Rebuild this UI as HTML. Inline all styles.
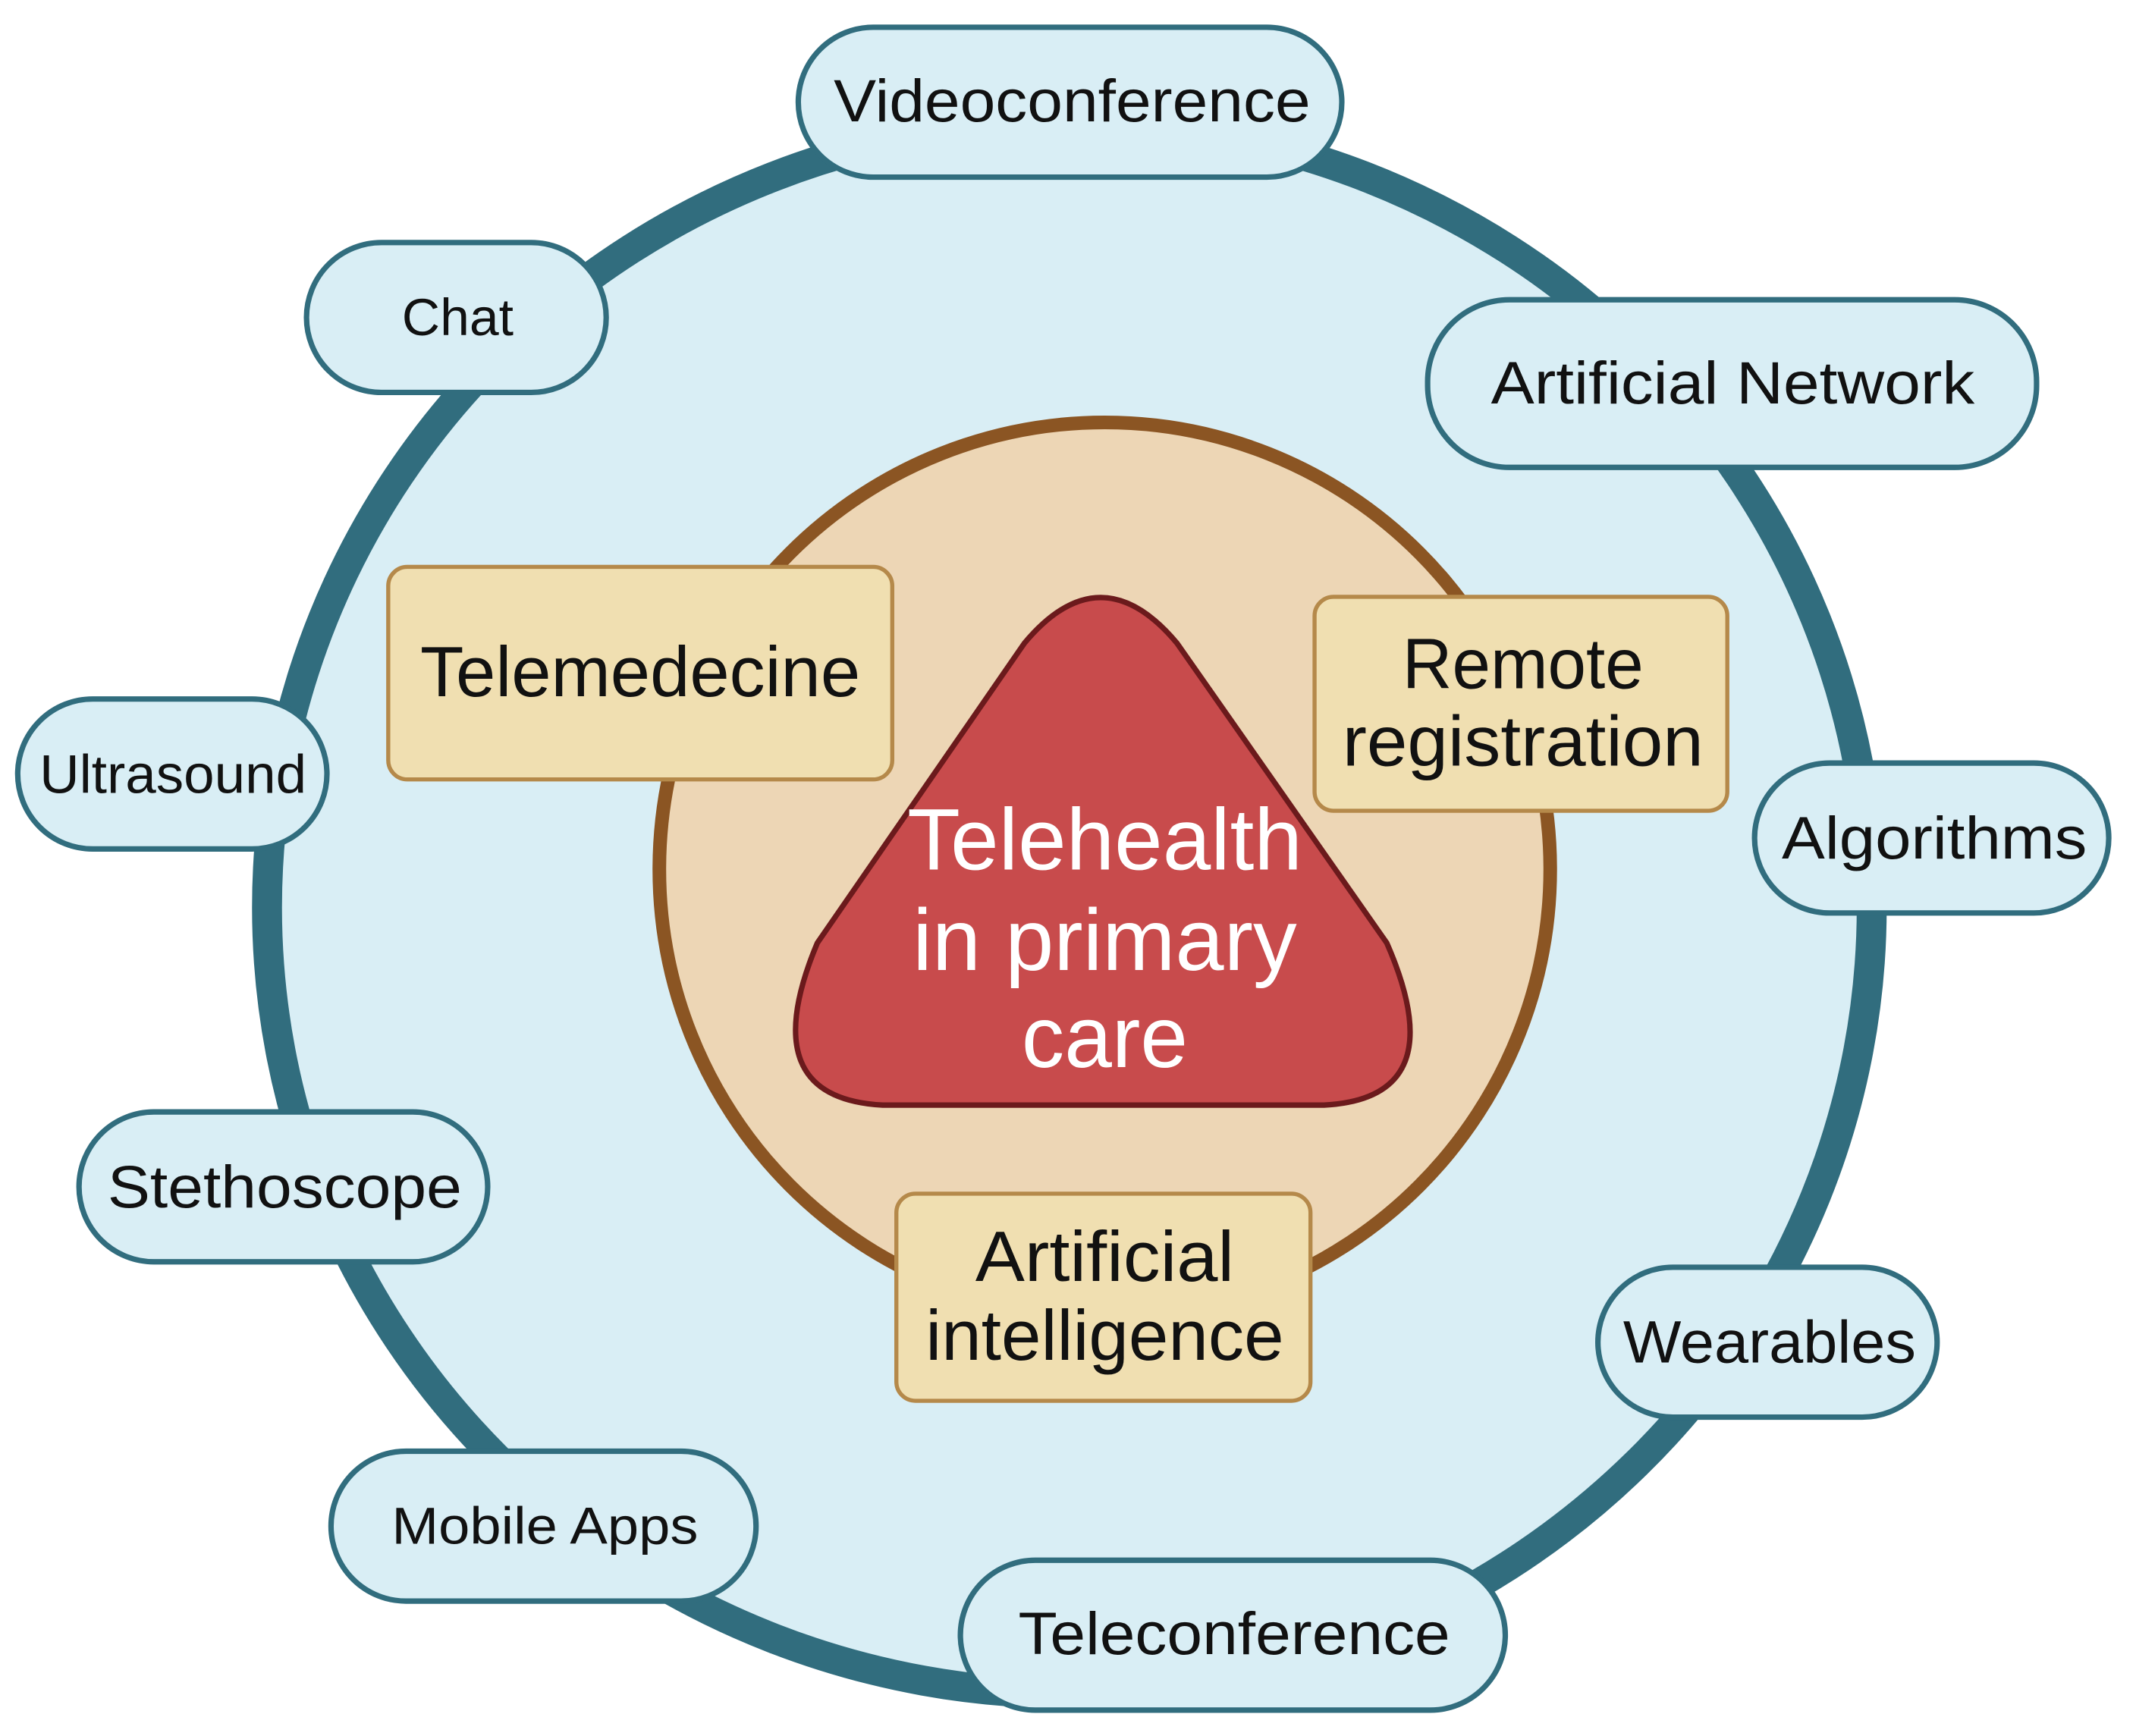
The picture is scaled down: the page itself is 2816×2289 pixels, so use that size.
<!DOCTYPE html>
<html><head><meta charset="utf-8"><style>
html,body{margin:0;padding:0;background:#fff;}
svg{display:block;}
text{font-family:"Liberation Sans",sans-serif;text-anchor:middle;}
</style></head><body>
<svg width="2816" height="2289" viewBox="0 0 1568 1274" preserveAspectRatio="none" xmlns="http://www.w3.org/2000/svg">
<ellipse cx="785" cy="666" rx="589" ry="577" fill="#d9eef5" stroke="#316d7e" stroke-width="22"/>
<ellipse cx="811" cy="638" rx="327" ry="328" fill="#edd6b5" stroke="#8b5523" stroke-width="10"/>
<path d="M752,472 Q808,405 864,472 L1018,692 Q1068,806 972,811 L648,811 Q552,806 600,692 Z" fill="#c84b4c" stroke="#6b1a1c" stroke-width="4" stroke-linejoin="round"/>
<g fill="#f0dfb1" stroke="#b5894a" stroke-width="3">
<rect x="285" y="416" width="370" height="156" rx="14"/>
<rect x="965" y="438" width="303" height="157" rx="14"/>
<rect x="658" y="876" width="304" height="152" rx="14"/>
</g>
<g fill="#d9eef5" stroke="#316d7e" stroke-width="4">
<rect x="586" y="20" width="399" height="110" rx="55"/>
<rect x="225" y="178" width="220" height="110" rx="55"/>
<rect x="1048" y="220" width="447" height="123" rx="60"/>
<rect x="13" y="513" width="227" height="110" rx="55"/>
<rect x="1288" y="560" width="260" height="110" rx="55"/>
<rect x="58" y="816" width="300" height="110" rx="55"/>
<rect x="1173" y="930" width="249" height="110" rx="55"/>
<rect x="243" y="1065" width="312" height="110" rx="55"/>
<rect x="705" y="1145" width="400" height="110" rx="55"/>
</g>
<g fill="#111">
<text x="787" y="89" font-size="44" textLength="350" lengthAdjust="spacingAndGlyphs">Videoconference</text>
<text x="336" y="246" font-size="38" textLength="82" lengthAdjust="spacingAndGlyphs">Chat</text>
<text x="1272" y="296" font-size="44" textLength="355" lengthAdjust="spacingAndGlyphs">Artificial Network</text>
<text x="127" y="582" font-size="40" textLength="196" lengthAdjust="spacingAndGlyphs">Ultrasound</text>
<text x="1420" y="630" font-size="44" textLength="224" lengthAdjust="spacingAndGlyphs">Algorithms</text>
<text x="209" y="886" font-size="44" textLength="260" lengthAdjust="spacingAndGlyphs">Stethoscope</text>
<text x="1299" y="1000" font-size="44" textLength="215" lengthAdjust="spacingAndGlyphs">Wearables</text>
<text x="400" y="1133" font-size="38" textLength="225" lengthAdjust="spacingAndGlyphs">Mobile Apps</text>
<text x="906" y="1214" font-size="44" textLength="317" lengthAdjust="spacingAndGlyphs">Teleconference</text>
<text x="470" y="511" font-size="52" textLength="323" lengthAdjust="spacingAndGlyphs">Telemedecine</text>
<text x="1118" y="505" font-size="52" textLength="177" lengthAdjust="spacingAndGlyphs">Remote</text>
<text x="1118" y="562" font-size="52" textLength="265" lengthAdjust="spacingAndGlyphs">registration</text>
<text x="811" y="940" font-size="52" textLength="190" lengthAdjust="spacingAndGlyphs">Artificial</text>
<text x="811" y="998" font-size="52" textLength="263" lengthAdjust="spacingAndGlyphs">intelligence</text>
</g>
<g fill="#fff">
<text x="811" y="638" font-size="64" textLength="290" lengthAdjust="spacingAndGlyphs">Telehealth</text>
<text x="811" y="712" font-size="64" textLength="282" lengthAdjust="spacingAndGlyphs">in primary</text>
<text x="811" y="783" font-size="64" textLength="122" lengthAdjust="spacingAndGlyphs">care</text>
</g>
</svg>
</body></html>
